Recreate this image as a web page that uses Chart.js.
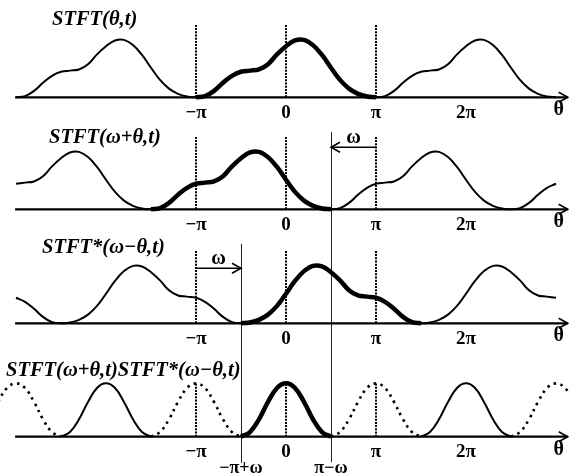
<!DOCTYPE html>
<html>
<head>
<meta charset="utf-8">
<script src="https://cdn.jsdelivr.net/npm/chart.js@4.4.0/dist/chart.umd.min.js"></script>
<style>
  body { margin: 0; background: #fff; }
  canvas { display: block; }
</style>
</head>
<body>
<canvas id="stft" width="569" height="474"></canvas>
<script>
// theta is in units of pi throughout
const tickValues = [-1, 0, 1, 2];
const tickLabels = ['−π', '0', 'π', '2π'];
const guideTicks = [-1, 0, 1];
const omega = 0.5;
// one period of |STFT(theta,t)|, theta from -1 to 1 in steps of 0.1
const stftPeriod = [0, 0.02, 0.11, 0.25, 0.37, 0.44, 0.46, 0.48, 0.57, 0.74, 0.88,
                    0.98, 0.99, 0.90, 0.73, 0.51, 0.30, 0.15, 0.06, 0.015, 0];
// product lobe, theta from -0.5 to 0.5 in steps of 0.1 (bottom panel)
const productBell = [0, 0.08, 0.30, 0.60, 0.84, 0.92, 0.84, 0.60, 0.30, 0.08, 0];
const solidBellCentres = [-2, 0, 2];
const dottedBellCentres = [-3, -1, 1, 3];
const titles = ['STFT(θ,t)', 'STFT(ω+θ,t)', 'STFT*(ω−θ,t)', 'STFT(ω+θ,t)STFT*(ω−θ,t)'];
const omegaLabels = ['−π+ω', 'π−ω'];

const H = 474;
const unit = 58;                            // px per unit of height
const baselines = [97.3, 209.3, 323.3, 436.7];
const titlePos = [[52, 20], [49, 138], [42, 248], [6, 371]];
const axisIds = ['y1', 'y2', 'y3', 'y4'];

function stftAt(t) {
  let k = Math.round((t + 1) * 10);
  k = ((k % 20) + 20) % 20;
  return stftPeriod[k];
}

function sample(fn, from, to) {
  const pts = [];
  for (let i = Math.round(from * 10); i <= Math.round(to * 10); i++) {
    pts.push({ x: i / 10, y: fn(i / 10) });
  }
  return pts;
}

const panelFns = [t => stftAt(t), t => stftAt(t + omega), t => stftAt(omega - t)];
const boldRanges = [[-1, 1], [-1 - omega, 1 - omega], [omega - 1, omega + 1]];

const datasets = [];
panelFns.forEach((fn, p) => {
  datasets.push({ data: sample(fn, -3, 3), yAxisID: axisIds[p], borderWidth: 2 });
  datasets.push({ data: sample(fn, boldRanges[p][0], boldRanges[p][1]), yAxisID: axisIds[p], borderWidth: 4.5 });
});
solidBellCentres.forEach(c => {
  datasets.push({
    data: productBell.map((v, i) => ({ x: c - 0.5 + i / 10, y: v })),
    yAxisID: 'y4', borderWidth: c === 0 ? 4.5 : 2
  });
});
dottedBellCentres.forEach(c => {
  datasets.push({
    data: productBell.map((v, i) => ({ x: c - 0.5 + i / 10, y: v })),
    yAxisID: 'y4', borderWidth: 2.6, borderDash: [2.5, 4.5]
  });
});
datasets.forEach(d => {
  d.borderColor = '#000';
  d.pointRadius = 0;
  d.fill = false;
  d.tension = 0.4;
});

const scales = {
  x: { type: 'linear', display: false, min: -286 / 90, max: 283 / 90 }
};
axisIds.forEach((id, p) => {
  const max = baselines[p] / unit;
  scales[id] = { type: 'linear', display: false, min: max - H / unit, max: max };
});

const serif = '"Liberation Serif", "Times New Roman", serif';

function arrowHead(ctx, x, y, dir) {
  ctx.beginPath();
  ctx.moveTo(x - dir * 9, y - 5);
  ctx.lineTo(x, y);
  ctx.lineTo(x - dir * 9, y + 5);
  ctx.stroke();
}

const overlay = {
  id: 'overlay',
  beforeDatasetsDraw(chart) {
    const { ctx } = chart;
    const x = chart.scales.x;
    ctx.save();
    ctx.strokeStyle = '#000';
    ctx.lineWidth = 2;
    ctx.setLineDash([2, 1.2]);
    axisIds.forEach((id, p) => {
      const y = chart.scales[id];
      const top = p === 3 ? Math.max(...productBell) : 1.26;
      guideTicks.forEach(t => {
        const px = x.getPixelForValue(t);
        ctx.beginPath();
        ctx.moveTo(px, y.getPixelForValue(0));
        ctx.lineTo(px, y.getPixelForValue(top));
        ctx.stroke();
      });
    });
    ctx.setLineDash([]);
    // theta = pi - omega and -pi + omega
    ctx.lineWidth = 1;
    ctx.strokeStyle = '#222';
    let px = Math.round(x.getPixelForValue(1 - omega)) + 0.5;
    ctx.beginPath();
    ctx.moveTo(px, chart.scales.y2.getPixelForValue(1.33));
    ctx.lineTo(px, chart.scales.y4.getPixelForValue(-0.44));
    ctx.stroke();
    px = Math.round(x.getPixelForValue(omega - 1)) + 0.5;
    ctx.beginPath();
    ctx.moveTo(px, chart.scales.y3.getPixelForValue(1.37));
    ctx.lineTo(px, chart.scales.y4.getPixelForValue(-0.45));
    ctx.stroke();
    ctx.restore();
  },
  afterDatasetsDraw(chart) {
    const { ctx } = chart;
    const x = chart.scales.x;
    ctx.save();
    ctx.strokeStyle = '#000';
    ctx.fillStyle = '#000';
    axisIds.forEach((id, p) => {
      const y0 = chart.scales[id].getPixelForValue(0);
      const left = x.getPixelForValue(-3.01);
      const tip = x.getPixelForValue(3.13);
      ctx.lineWidth = 2.2;
      ctx.beginPath();
      ctx.moveTo(left, y0);
      ctx.lineTo(tip, y0);
      ctx.stroke();
      ctx.lineWidth = 1.6;
      arrowHead(ctx, tip, y0, 1);

      ctx.font = 'bold 19px ' + serif;
      ctx.textAlign = 'center';
      ctx.textBaseline = 'middle';
      tickValues.forEach((t, i) => {
        ctx.fillText(tickLabels[i], x.getPixelForValue(t), y0 + 15.5);
      });
      ctx.font = 'bold 20px ' + serif;
      ctx.fillText('θ', x.getPixelForValue(3.03), y0 + 13);

      ctx.font = 'italic bold 20.5px ' + serif;
      ctx.textAlign = 'left';
      ctx.fillText(titles[p], titlePos[p][0], titlePos[p][1]);
    });

    // omega arrows
    ctx.lineWidth = 1.6;
    ctx.font = 'bold 20px ' + serif;
    ctx.textAlign = 'center';
    ctx.textBaseline = 'middle';
    let yy = chart.scales.y2.getPixelForValue(1.07);
    ctx.beginPath();
    ctx.moveTo(x.getPixelForValue(1), yy);
    ctx.lineTo(x.getPixelForValue(1 - omega), yy);
    ctx.stroke();
    arrowHead(ctx, x.getPixelForValue(1 - omega), yy, -1);
    ctx.fillText('ω', x.getPixelForValue(1 - omega / 2), chart.scales.y2.getPixelForValue(1.24));

    yy = chart.scales.y3.getPixelForValue(0.95);
    ctx.beginPath();
    ctx.moveTo(x.getPixelForValue(-1), yy);
    ctx.lineTo(x.getPixelForValue(omega - 1), yy);
    ctx.stroke();
    arrowHead(ctx, x.getPixelForValue(omega - 1), yy, 1);
    ctx.fillText('ω', x.getPixelForValue(-1 + omega / 2), chart.scales.y3.getPixelForValue(1.12));

    // lower labels of the product panel
    ctx.font = 'bold 18px ' + serif;
    const yb = chart.scales.y4.getPixelForValue(0) + 31.5;
    ctx.fillText(omegaLabels[0], x.getPixelForValue(omega - 1), yb);
    ctx.fillText(omegaLabels[1], x.getPixelForValue(1 - omega), yb);
    ctx.restore();
  }
};

new Chart(document.getElementById('stft'), {
  type: 'line',
  data: { datasets },
  options: {
    responsive: false,
    animation: false,
    layout: { padding: 0 },
    plugins: { legend: { display: false }, tooltip: { enabled: false } },
    scales
  },
  plugins: [overlay]
});
</script>
</body>
</html>
